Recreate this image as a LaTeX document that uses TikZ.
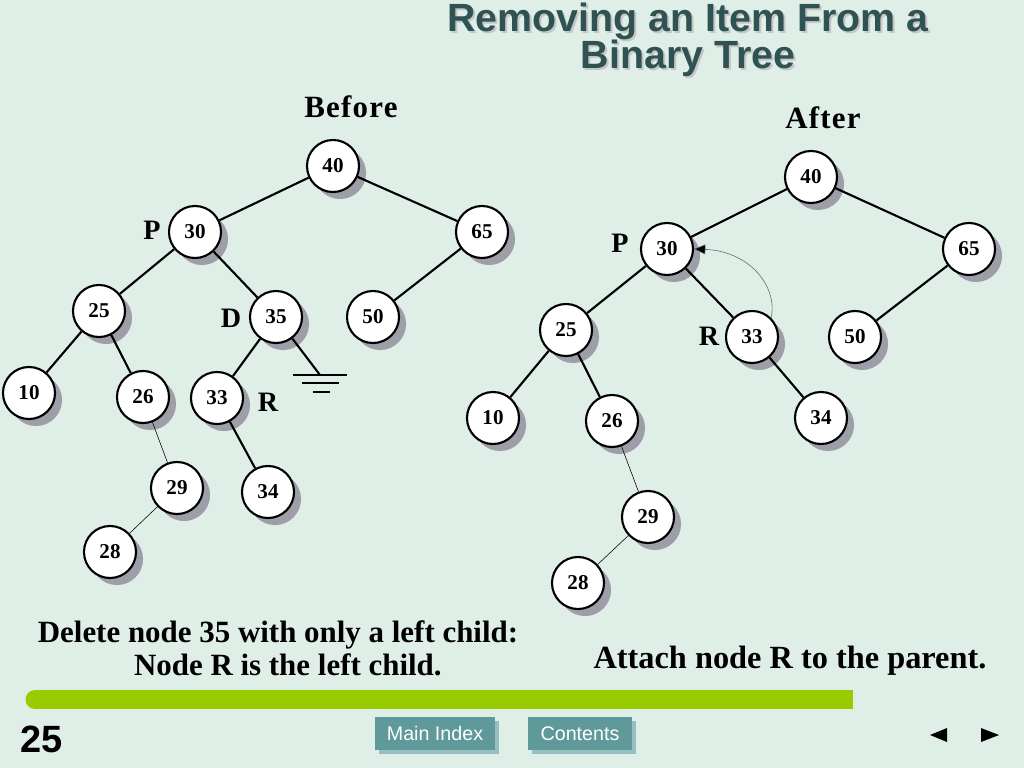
\documentclass[tikz,border=0pt]{standalone}
\usepackage{fontspec}
\setmainfont{Liberation Serif}
\newfontfamily\titlefont{Liberation Sans}
\usepackage{xcolor}
\usepackage{tikz}
\usetikzlibrary{arrows.meta, shadows}

\definecolor{slidebg}{RGB}{224,238,232}
\definecolor{titlecol}{RGB}{47,82,82}
\definecolor{barcol}{RGB}{153,204,0}
\definecolor{btncol}{RGB}{95,153,153}
\definecolor{btnshade}{RGB}{150,192,192}
\definecolor{shadecol}{RGB}{158,158,168}

\begin{document}
\begin{tikzpicture}[x=0.025cm, y=-0.025cm,
    tnode/.style={circle, draw, line width=1.5pt, fill=white, minimum size=37pt, inner sep=0pt,
        font=\bfseries\fontsize{15}{15}\selectfont,
        drop shadow={shadow xshift=5pt, shadow yshift=-5pt, fill=shadecol, opacity=1}},
    link/.style={line width=1.5pt},
    thinlink/.style={line width=0.4pt},
    lbl/.style={font=\bfseries\fontsize{20}{20}\selectfont},
    head/.style={font=\bfseries\fontsize{22}{22}\selectfont\addfontfeature{LetterSpace=4}},
    note/.style={font=\bfseries\fontsize{22}{23.5}\selectfont, align=center},
    btn/.style={fill=btncol, text=white, minimum height=23.5pt, inner sep=0pt, font=\titlefont\fontsize{14}{14}\selectfont,
        drop shadow={shadow xshift=2.8pt, shadow yshift=-2.8pt, fill=btnshade, opacity=1}}
]
\fill[slidebg] (0,0) rectangle (1024,768);
\useasboundingbox (0,0) rectangle (1024,768);

% title
\node[text=gray!45, align=center, font=\titlefont\bfseries\fontsize{28}{26.5}\selectfont] (titleshade) at (690,42) {Removing an Item From a\\Binary Tree};
\node[text=titlecol, align=center, font=\titlefont\bfseries\fontsize{28}{26.5}\selectfont] (title) at (688,40) {Removing an Item From a\\Binary Tree};

\node[head] (before) at (351,107) {Before};
\node[head] (after) at (823,118) {After};

% tree before
\node[tnode] (b40) at (333,166) {40};
\node[tnode] (b30) at (195,232) {30};
\node[tnode] (b65) at (482,232) {65};
\node[tnode] (b25) at (99,311) {25};
\node[tnode] (b35) at (276,317) {35};
\node[tnode] (b50) at (373,317) {50};
\node[tnode] (b10) at (29,393) {10};
\node[tnode] (b26) at (143,397) {26};
\node[tnode] (b33) at (217,398) {33};
\node[tnode] (b29) at (177,488) {29};
\node[tnode] (b34) at (268,492) {34};
\node[tnode] (b28) at (110,552) {28};
\coordinate (gnd) at (320,375);

\node[lbl] (bP) at (152,230) {P};
\node[lbl] (bD) at (231,318) {D};
\node[lbl] (bR) at (268,402) {R};

\draw[link] (b40) -- (b30);
\draw[link] (b40) -- (b65);
\draw[link] (b30) -- (b25);
\draw[link] (b30) -- (b35);
\draw[link] (b65) -- (b50);
\draw[link] (b25) -- (b10);
\draw[link] (b25) -- (b26);
\draw[link] (b35) -- (b33);
\draw[link] (b33) -- (b34);
\draw[thinlink] (b26) -- (b29);
\draw[thinlink] (b29) -- (b28);
\draw[link] (b35) -- (gnd);
\draw[link] (gnd) ++(-27,0) -- ++(54,0);
\draw[link] (gnd) ++(-18,8) -- ++(37,0);
\draw[link] (gnd) ++(-7,17) -- ++(17,0);

% tree after
\node[tnode] (a40) at (811,177) {40};
\node[tnode] (a30) at (667,249) {30};
\node[tnode] (a65) at (969,249) {65};
\node[tnode] (a25) at (566,330) {25};
\node[tnode] (a33) at (752,337) {33};
\node[tnode] (a50) at (855,337) {50};
\node[tnode] (a10) at (493,418) {10};
\node[tnode] (a26) at (612,421) {26};
\node[tnode] (a34) at (821,418) {34};
\node[tnode] (a29) at (648,517) {29};
\node[tnode] (a28) at (578,583) {28};

\node[lbl] (aP) at (620,243) {P};
\node[lbl] (aR) at (709,336) {R};

\draw[link] (a40) -- (a30);
\draw[link] (a40) -- (a65);
\draw[link] (a30) -- (a25);
\draw[link] (a30) -- (a33);
\draw[link] (a65) -- (a50);
\draw[link] (a25) -- (a10);
\draw[link] (a25) -- (a26);
\draw[link] (a33) -- (a34);
\draw[thinlink] (a26) -- (a29);
\draw[thinlink] (a29) -- (a28);
\draw[thinlink, draw=gray!80!black, -{Triangle[length=8pt, width=7pt, fill=black]}] (a33.45) .. controls (778,285) and (748,251) .. (a30.east);

% captions
\node[note] (del) at (278,648) {Delete node 35 with only a left child:\\\hspace*{14pt}Node R is the left child.};
\node[note, font=\bfseries\fontsize{23}{23}\selectfont] (att) at (790,661) {Attach node R to the parent.};

% footer
\fill[barcol] (35,690) rectangle (853,709);
\fill[barcol] (35,699.5) circle[radius=9.5];
\node[font=\titlefont\bfseries\fontsize{27}{27}\selectfont] (pg) at (42,739) {25};
\node[btn, minimum width=85pt] (mainidx) at (435,733.5) {Main Index};
\node[btn, minimum width=74pt] (contents) at (580,733.5) {Contents};
\fill (947,728) -- (947,742) -- (930,735) -- cycle;
\fill (981,728) -- (981,742) -- (999,735) -- cycle;
\end{tikzpicture}
\end{document}
